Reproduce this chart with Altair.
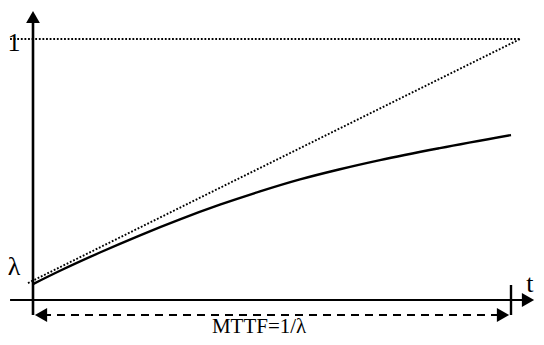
import altair as alt
import pandas as pd

# ---- data (logical units: t in units of MTTF, y in units of the "1" level) ----
curve_t = [0.0, 0.0565, 0.14, 0.224, 0.3075, 0.391, 0.475, 0.5586, 0.64, 0.726, 0.851, 1.0]
curve_f = [0.061, 0.112, 0.182, 0.248, 0.309, 0.365, 0.416, 0.462, 0.500, 0.536, 0.582, 0.632]

diag_t = [-0.0105, 1.019]
diag_f = [0.065, 1.0]

one_level_t = [-0.048, 1.019]
one_level_f = [1.0, 1.0]

lam = 0.0575          # level of lambda on the y axis
mttf = 1.0            # MTTF = 1/lambda on the t axis

labels_text = ["1", "λ", "t"]
labels_x = [-0.0397, -0.0397, 1.0397]
labels_y = [0.954, 0.0958, 0.0307]

mttf_label = "MTTF=1/λ"

# ---- scales mapping the logical system to the canvas ----
W, H = 528, 329
X_DOM = [-0.0523, 1.0523]
Y_DOM = [-0.1418, 1.1188]
xs = alt.Scale(domain=X_DOM, nice=False, zero=False)
ys = alt.Scale(domain=Y_DOM, nice=False, zero=False)
px_x = (X_DOM[1] - X_DOM[0]) / W
px_y = (Y_DOM[1] - Y_DOM[0]) / H


def seg(xa, ya, xb, yb):
    return pd.DataFrame({"x": [xa], "y": [ya], "x2": [xb], "y2": [yb]})


def rule(df, width=2.5, dash=None):
    kw = dict(color="black", strokeWidth=width)
    if dash:
        kw["strokeDash"] = dash
    return alt.Chart(df).mark_rule(**kw).encode(
        x=alt.X("x:Q", scale=xs, axis=None),
        y=alt.Y("y:Q", scale=ys, axis=None),
        x2="x2:Q", y2="y2:Q")


x_head = X_DOM[1] - 8 * px_x
y_head = 1.084

layers = []

# y axis with arrow
layers.append(rule(seg(0, -lam, 0, y_head - 5 * px_y), 2.6))
# x axis with arrow
layers.append(rule(seg(-0.048, 0, x_head - 5 * px_x, 0), 1.8))
# MTTF tick
layers.append(rule(seg(mttf, lam, mttf, -lam), 2.4))
# dashed MTTF double arrow
layers.append(rule(seg(10 * px_x, -lam, mttf - 10 * px_x, -lam), 2.0, [8, 6]))

# dotted reference lines
dotted = pd.DataFrame({"x": one_level_t, "y": one_level_f, "g": "a"})
dotted = pd.concat([dotted, pd.DataFrame({"x": diag_t, "y": diag_f, "g": "b"})])
layers.append(alt.Chart(dotted).mark_line(color="black", strokeWidth=1.9, strokeDash=[1.8, 1.8]).encode(
    x=alt.X("x:Q", scale=xs, axis=None), y=alt.Y("y:Q", scale=ys, axis=None), detail="g:N"))

# the curve
curve = pd.DataFrame({"x": curve_t, "y": curve_f})
layers.append(alt.Chart(curve).mark_line(color="black", strokeWidth=2.4, interpolate="monotone").encode(
    x=alt.X("x:Q", scale=xs, axis=None), y=alt.Y("y:Q", scale=ys, axis=None)))

# arrow heads
heads = pd.DataFrame({
    "x": [0, x_head, 8 * px_x, mttf - 8 * px_x],
    "y": [y_head, 0, -lam, -lam],
    "shape": ["triangle-up", "triangle-right", "triangle-left", "triangle-right"],
    "size": [190, 200, 200, 200],
})
layers.append(alt.Chart(heads).mark_point(filled=True, color="black", opacity=1, strokeWidth=0).encode(
    x=alt.X("x:Q", scale=xs, axis=None), y=alt.Y("y:Q", scale=ys, axis=None),
    shape=alt.Shape("shape:N", scale=None, legend=None),
    size=alt.Size("size:Q", scale=None, legend=None)))

# labels
lab = pd.DataFrame({"text": labels_text, "x": labels_x, "y": labels_y})
layers.append(alt.Chart(lab).mark_text(font="Liberation Serif", fontSize=26, baseline="alphabetic",
                                        align="center", color="black").encode(
    x=alt.X("x:Q", scale=xs, axis=None), y=alt.Y("y:Q", scale=ys, axis=None), text="text:N"))

mt = pd.DataFrame({"text": [mttf_label], "x": [0.473], "y": [-0.1264]})
layers.append(alt.Chart(mt).mark_text(font="Liberation Serif", fontSize=21, baseline="alphabetic",
                                       align="center", color="black").encode(
    x=alt.X("x:Q", scale=xs, axis=None), y=alt.Y("y:Q", scale=ys, axis=None), text="text:N"))

chart = alt.layer(*layers).properties(
    width=W, height=H,
    autosize=alt.AutoSizeParams(type="none"),
    padding=0,
).configure(background="white").configure_view(stroke=None)

chart.save("out.html", embed_options={"renderer": "svg", "actions": False})
